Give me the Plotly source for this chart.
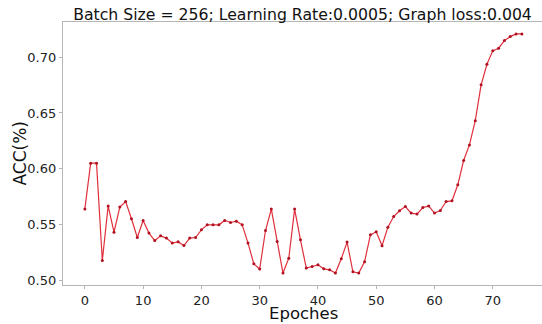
import plotly.graph_objects as go

epochs = list(range(76))
acc = [0.5639, 0.6049, 0.6049, 0.5176, 0.5666, 0.5430, 0.5655, 0.5705, 0.5550, 0.5382,
       0.5535, 0.5422, 0.5355, 0.5397, 0.5377, 0.5332, 0.5343, 0.5310, 0.5377, 0.5382,
       0.5451, 0.5496, 0.5496, 0.5496, 0.5535, 0.5517, 0.5529, 0.5496, 0.5332, 0.5146,
       0.5099, 0.5445, 0.5637, 0.5346, 0.5063, 0.5197, 0.5637, 0.5361, 0.5108, 0.5122,
       0.5137, 0.5101, 0.5092, 0.5063, 0.5191, 0.5341, 0.5074, 0.5063, 0.5164, 0.5406,
       0.5433, 0.5308, 0.5475, 0.5570, 0.5622, 0.5660, 0.5601, 0.5592, 0.5651, 0.5665,
       0.5601, 0.5624, 0.5705, 0.5711, 0.5855, 0.6073, 0.6213, 0.6431, 0.6752, 0.6937,
       0.7057, 0.7081, 0.7149, 0.7185, 0.7209, 0.7209]
x_ticks = [0, 10, 20, 30, 40, 50, 60, 70]
y_ticks = [0.50, 0.55, 0.60, 0.65, 0.70]
title = "Batch Size = 256; Learning Rate:0.0005; Graph loss:0.004"
x_title = "Epoches"
y_title = "ACC(%)"

W, H = 542, 324
L, T, B = 63, 22, 39
PW, PH = W - L, H - T - B

fig = go.Figure()
fig.add_trace(go.Scatter(
    x=epochs, y=acc, mode="lines+markers",
    line=dict(color="#e0303c", width=1.2),
    marker=dict(color="#b01020", size=3),
    showlegend=False,
))

axis_common = dict(
    showgrid=False, zeroline=False, showline=True, linecolor="#b5b5b5", linewidth=1.2,
    ticks="outside", ticklen=3, tickcolor="#b5b5b5",
    tickfont=dict(family="DejaVu Sans", size=13, color="#222222"),
)

fig.update_layout(
    width=W, height=H,
    margin=dict(l=L, r=0, t=T, b=B),
    paper_bgcolor="white", plot_bgcolor="white",
    title=dict(text=title, x=302.5 / W, xanchor="center", y=1 - 20 / H, yanchor="bottom",
               font=dict(family="DejaVu Sans", size=15.7, color="#111111")),
    xaxis=dict(range=[-3.75, 78.45], tickvals=x_ticks, mirror=True, **axis_common),
    yaxis=dict(range=[0.4956, 0.7316], tickvals=y_ticks, tickformat=".2f", **axis_common),
    annotations=[
        dict(text=x_title, xref="paper", yref="paper",
             x=(303.7 - L) / PW, xanchor="center",
             y=-(302 - (T + PH)) / PH, yanchor="top", showarrow=False,
             font=dict(family="DejaVu Sans", size=16.5, color="#111111")),
        dict(text=y_title, xref="paper", yref="paper", textangle=-90,
             x=-(L - 19) / PW, xanchor="center",
             y=0.5, yanchor="middle", showarrow=False,
             font=dict(family="DejaVu Sans", size=17, color="#111111")),
    ],
)

# remove the default page margin so the figure fills the window exactly
fig.write_html("out.html", config={"displayModeBar": False},
               post_script="document.body.style.margin='0';document.body.style.overflow='hidden';")
